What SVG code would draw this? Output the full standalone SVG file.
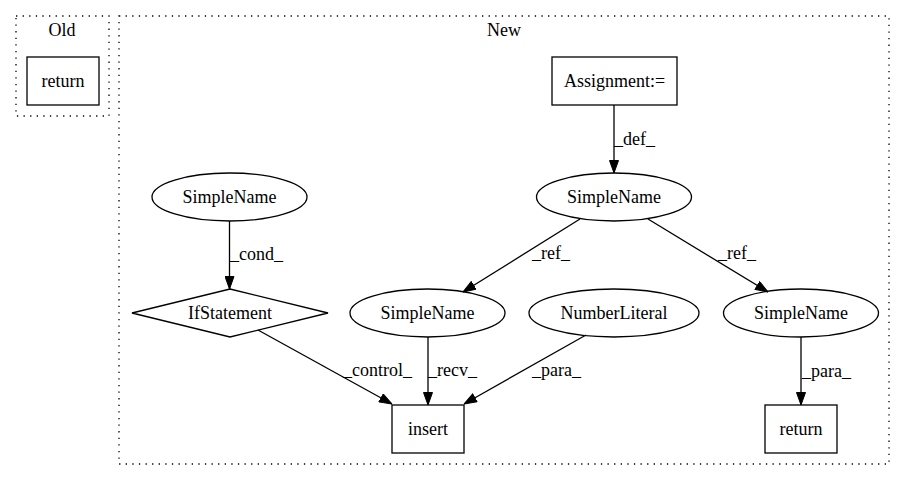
<svg xmlns="http://www.w3.org/2000/svg" width="905" height="480" viewBox="0 0 905 480">
<style>
text{font-family:"Liberation Serif","Times New Roman",serif;font-size:18px;fill:#000;text-anchor:middle}
.n{fill:none;stroke:#000;stroke-width:1.3}
.c{fill:none;stroke:#000;stroke-width:1.3;stroke-dasharray:1.3,5.3}
.e{fill:none;stroke:#000;stroke-width:1.3;marker-end:url(#ah)}
.l{text-anchor:start}
</style>
<defs>
<marker id="ah" markerWidth="13" markerHeight="10" refX="13" refY="5" orient="auto" markerUnits="userSpaceOnUse">
<path d="M0.5,0.5 L13,5 L0.5,9.5 Z" fill="#000" stroke="#000"/>
</marker>
</defs>
<rect width="905" height="480" fill="#fff"/>
<g id="cluster_old">
<rect class="c" x="16" y="16" width="93" height="100"/>
<text x="62" y="36">Old</text>
</g>
<g id="cluster_new">
<rect class="c" x="119" y="16" width="770" height="448"/>
<text x="504" y="36">New</text>
</g>
<g id="old_return">
<rect class="n" x="27" y="57" width="72" height="48"/>
<text x="63" y="87">return</text>
</g>
<g id="assign">
<rect class="n" x="552" y="57" width="125" height="48"/>
<text x="614.5" y="87">Assignment:=</text>
</g>
<g id="sn_def">
<ellipse class="n" cx="614" cy="197" rx="77.5" ry="24"/>
<text x="614" y="203">SimpleName</text>
</g>
<g id="sn_cond">
<ellipse class="n" cx="229.5" cy="197" rx="77.5" ry="24"/>
<text x="229.5" y="203">SimpleName</text>
</g>
<g id="ifstmt">
<polygon class="n" points="230,289 328,313 230,337 132,313"/>
<text x="230" y="319">IfStatement</text>
</g>
<g id="sn_recv">
<ellipse class="n" cx="427.5" cy="313" rx="77.5" ry="24"/>
<text x="427.5" y="319">SimpleName</text>
</g>
<g id="numlit">
<ellipse class="n" cx="614" cy="313" rx="85" ry="24"/>
<text x="614" y="319">NumberLiteral</text>
</g>
<g id="sn_para">
<ellipse class="n" cx="801" cy="313" rx="77.5" ry="24"/>
<text x="801" y="319">SimpleName</text>
</g>
<g id="insert">
<rect class="n" x="392" y="405" width="72" height="48"/>
<text x="428" y="435">insert</text>
</g>
<g id="new_return">
<rect class="n" x="765" y="405" width="72" height="48"/>
<text x="801" y="435">return</text>
</g>
<g id="edges">
<line class="e" x1="614" y1="105" x2="614" y2="173"/>
<text class="l" x="614" y="145">_def_</text>
<line class="e" x1="580" y1="219" x2="463" y2="292"/>
<text class="l" x="532" y="259">_ref_</text>
<line class="e" x1="648" y1="219" x2="768" y2="292"/>
<text class="l" x="718" y="259">_ref_</text>
<line class="e" x1="229.5" y1="221" x2="229.5" y2="289"/>
<text class="l" x="230" y="260">_cond_</text>
<line class="e" x1="258" y1="330" x2="392" y2="404"/>
<text class="l" x="343" y="376">_control_</text>
<line class="e" x1="428" y1="337" x2="428" y2="405"/>
<text class="l" x="428" y="376">_recv_</text>
<line class="e" x1="586" y1="335" x2="464" y2="404"/>
<text class="l" x="532" y="376">_para_</text>
<line class="e" x1="801" y1="337" x2="801" y2="405"/>
<text class="l" x="802" y="377">_para_</text>
</g>
</svg>
